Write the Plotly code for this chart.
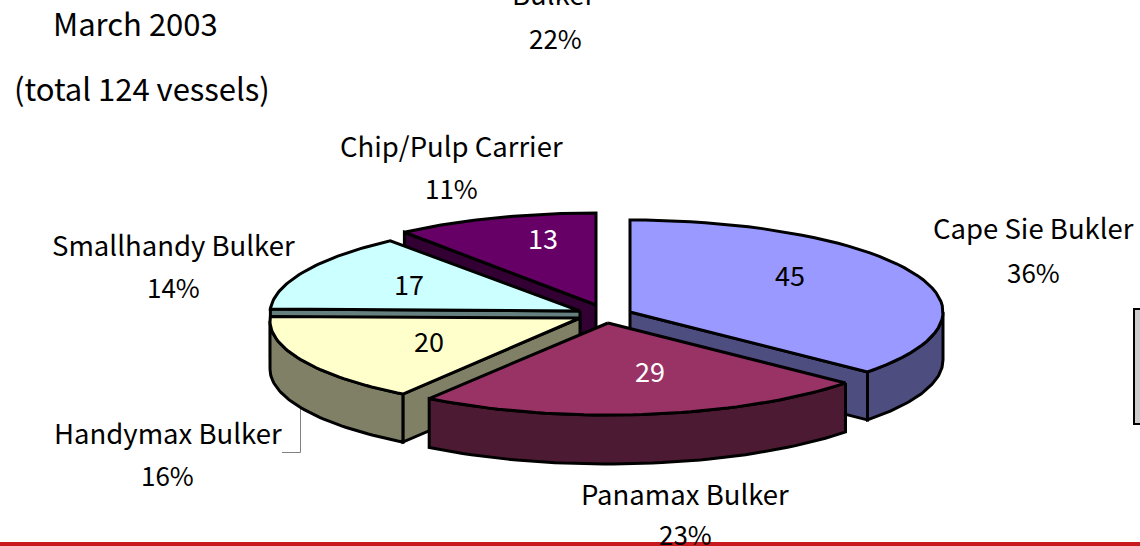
import numpy as np
import plotly.graph_objects as go

# ---- data ----
categories = ["Cape Sie Bukler", "Panamax Bulker", "Handymax Bulker", "Smallhandy Bulker", "Chip/Pulp Carrier"]
values = [45, 29, 20, 17, 13]
percents = ["36%", "23%", "16%", "14%", "11%"]
total_note = "(total 124 vessels)"
date_note = "March 2003"
cropped_label = "Bulker"
cropped_percent = "22%"

# ---- styles and layout ----
top_colors = ["#9999FF", "#993366", "#FFFFCC", "#CCFFFF", "#660066"]
side_colors = ["#4D4D80", "#4D1A33", "#808066", "#668080", "#330033"]
value_colors = ["black", "white", "black", "black", "white"]
# apex x, apex y, rim-centre y, rim radius x, rim radius y, depth
geometry = [
    (630, 312, 312, 313, 92, 48),
    (608, 323, 323, 313, 92, 49),
    (580, 318, 321, 310, 89, 48),
    (580, 311, 313.6, 310, 92, 48),
    (596, 305, 305, 313, 92, 48),
]
draw_order = [4, 0, 3, 2, 1]
value_pos = [(790, 274), (650, 370), (429, 340), (409, 283), (543, 237)]
label_pos = [(1033, 227, 1033, 271), (685, 493, 685, 533), (168, 432, 168, 474),
             (173, 244, 173, 286), (451, 145, 451, 187)]
FONT = "Noto Sans CJK JP"
FS = 27.5

edges = np.concatenate([[0], np.cumsum(values)]) / sum(values) * 360.0

fig = go.Figure()


def poly(xs, ys, color):
    fig.add_trace(go.Scatter(
        x=list(xs) + [xs[0]], y=list(ys) + [ys[0]], mode="lines", fill="toself",
        fillcolor=color, line=dict(color="black", width=3), hoverinfo="skip", showlegend=False,
    ))


def rim(g, a, b, n=48):
    ax, ay, cy, rx, ry, d = g
    t = np.radians(np.linspace(a, b, n))
    return ax + rx * np.sin(t), cy - ry * np.cos(t)


# leader line of the Handymax label
fig.add_trace(go.Scatter(x=[300.5, 300.5, 282], y=[405, 452.5, 452.5], mode="lines",
                         line=dict(color="#808080", width=1), hoverinfo="skip", showlegend=False))

for i in draw_order:
    g = geometry[i]
    a, b = edges[i], edges[i + 1]
    ax, ay, cy, rx, ry, d = g
    # radial face, when it looks towards the viewer
    if i != 1:
        ang = b if i == 0 else a
        ex, ey = rim(g, ang, ang, 1)
        poly([ax, ex[0], ex[0], ax], [ay, ey[0], ey[0] + d, ay + d], side_colors[i])
    # outer wall, the part of the rim on the front half
    wa, wb = max(a, 90), min(b, 270)
    if wb > wa:
        wx, wy = rim(g, wa, wb)
        poly(list(wx) + list(wx[::-1]), list(wy) + list(wy[::-1] + d), side_colors[i])
    # top
    tx, ty = rim(g, a, b)
    poly([ax] + list(tx), [ay] + list(ty), top_colors[i])

ann = []


def text(x, y, s, color="black", size=FS):
    # paper coordinates, so that a label cropped by the page edge is still drawn
    ann.append(dict(x=x / 1140, y=1 - y / 546, text=s, showarrow=False, xref="paper", yref="paper",
                    xanchor="center", yanchor="middle",
                    font=dict(family=FONT, size=size, color=color)))


for i, v in enumerate(values):
    text(value_pos[i][0], value_pos[i][1], str(v), value_colors[i], 27)
    lx, ly, px, py = label_pos[i]
    text(lx, ly, categories[i])
    text(px, py, percents[i], size=26)
text(135, 23, date_note, size=31)
text(142, 88, total_note, size=31)
text(553, -7, cropped_label)
text(555, 38, cropped_percent, size=26)

fig.update_layout(
    width=1140, height=546, margin=dict(l=0, r=0, t=0, b=0, pad=0),
    paper_bgcolor="white", plot_bgcolor="white", showlegend=False,
    xaxis=dict(range=[0, 1140], visible=False, fixedrange=True),
    yaxis=dict(range=[546, 0], visible=False, fixedrange=True),
    annotations=ann,
    shapes=[
        dict(type="rect", xref="x", yref="y", x0=1134, x1=1145, y0=309, y1=424,
             fillcolor="#CCCCCC", line=dict(color="black", width=2), layer="below"),
        dict(type="rect", xref="x", yref="y", x0=0, x1=1140, y0=542, y1=546,
             fillcolor="#C8191E", line=dict(width=0), layer="above"),
    ],
)
fig.write_html("out.html", config={"displayModeBar": False},
               post_script="document.body.style.margin='0';document.body.style.overflow='hidden';")
